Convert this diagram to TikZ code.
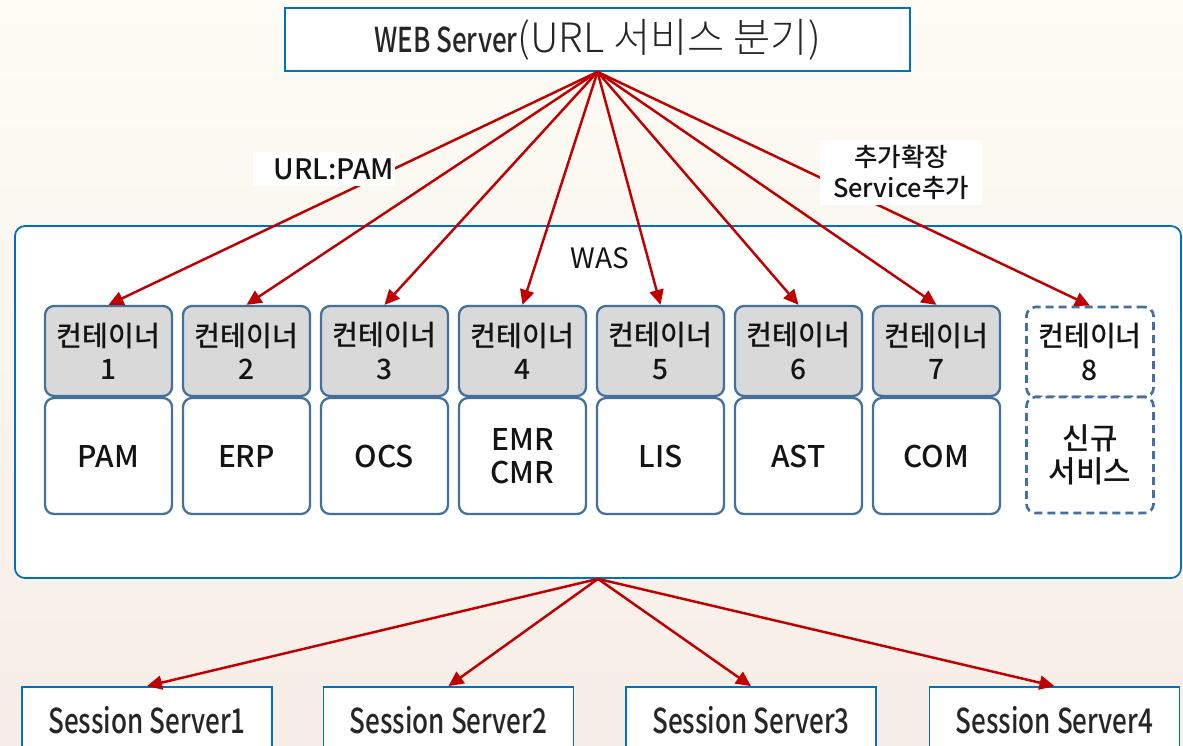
\documentclass[tikz,border=0pt]{standalone}
\usepackage{fontspec}
\usepackage{xcolor}
\usepackage{tikz}
\usetikzlibrary{arrows.meta,positioning}
\setmainfont{Noto Sans CJK KR Medium}
\newfontfamily\narrowfam[FakeStretch=0.76]{Noto Sans CJK KR Medium}
\newfontfamily\lightfam{Noto Sans CJK KR Light}
\newfontfamily\plainfam{Noto Sans CJK KR}
\definecolor{linkred}   {HTML}{C00000}
\definecolor{frameblue} {HTML}{0070C0}
\definecolor{boxblue}   {HTML}{41719C}
\definecolor{headgray}  {HTML}{D9D9D9}
\definecolor{paper}     {HTML}{FDFCF5}
\definecolor{paperpink} {HTML}{F7EDE7}
\definecolor{ink}       {HTML}{141414}
\definecolor{titleink}  {HTML}{262626}
\renewcommand{\small}       {\fontsize{16}{19}\selectfont}
\renewcommand{\normalsize}  {\fontsize{17}{19}\selectfont}
\renewcommand{\footnotesize}{\fontsize{14.5}{17.5}\selectfont}
\renewcommand{\large}       {\fontsize{19.5}{24}\selectfont}
\renewcommand{\Large}       {\fontsize{23}{28}\selectfont}

\begin{document}
\begin{tikzpicture}[x=0.2mm, y=-0.2mm, font=\small, text=ink,
  link/.style={-{Triangle[length=3mm,width=2.8mm]}, linkred, line width=1.4pt},
  frame/.style={draw=frameblue, line width=1pt, fill=white},
  head/.style={draw=boxblue, line width=1.3pt, fill=headgray,
               rounded corners=1.8mm, minimum width=25.4mm,
               minimum height=18mm, align=center, inner sep=0pt},
  body/.style={head, fill=white, minimum height=23.2mm, font=\normalsize},
  newbox/.style={dash pattern=on 1.6mm off 1mm, line width=1.5pt, fill=white},
  tag/.style={fill=white, inner sep=0pt, align=center}]
  % page and background
  \clip (0,0) rectangle (1183,745);
  \shade[top color=paper, bottom color=paperpink] (0,0) rectangle (1183,745);

  % web server and WAS
  \node[frame, minimum width=125mm, minimum height=12.6mm, text=titleink]
        (web) at (597.5,39.5)
        {\narrowfam\large WEB Server\lightfam\Large(URL 서비스 분기)};
  \node[frame, rounded corners=2mm, minimum width=233.2mm,
        minimum height=70.4mm] (was) at (598,402) {};
  \node[font=\plainfam\small] (waslab) at (600,258) {WAS};

  % containers
  \foreach \i/\svc in {1/PAM,2/ERP,3/OCS,4/{EMR\\CMR},5/LIS,6/AST,7/COM} {
    \node[head] (c\i) at ({108.5+138*(\i-1)},351) {컨테이너\\\i};
    \node[body] (s\i) at ({108.5+138*(\i-1)},456) {\svc};
  }
  \node[head, newbox] (c8) at (1090,352) {컨테이너\\8};
  \node[body, newbox] (s8) at (1090,455) {신규\\서비스};

  % session servers
  \foreach \k/\x in {1/147,2/448.5,3/751,4/1054.5}
    \node[frame, minimum width=50mm, minimum height=13.2mm,
          font=\narrowfam\large, text=titleink]
          (ss\k) at (\x,720) {Session Server\k};

  % connectors
  \foreach \i in {1,...,8}
    \draw[link] (web.south) -- (c\i.north);
  \foreach \k in {1,...,4}
    \draw[link] (was.south) -- (ss\k.north);

  \node[tag, minimum width=28.4mm, minimum height=6.8mm] (urltag)
        at (324,169) {\hspace*{4mm}URL:PAM};
  \node[tag, minimum width=32.4mm, minimum height=13mm,
        font=\footnotesize] (addtag) at (901,172.5) {추가확장\\Service추가};
\end{tikzpicture}
\end{document}
